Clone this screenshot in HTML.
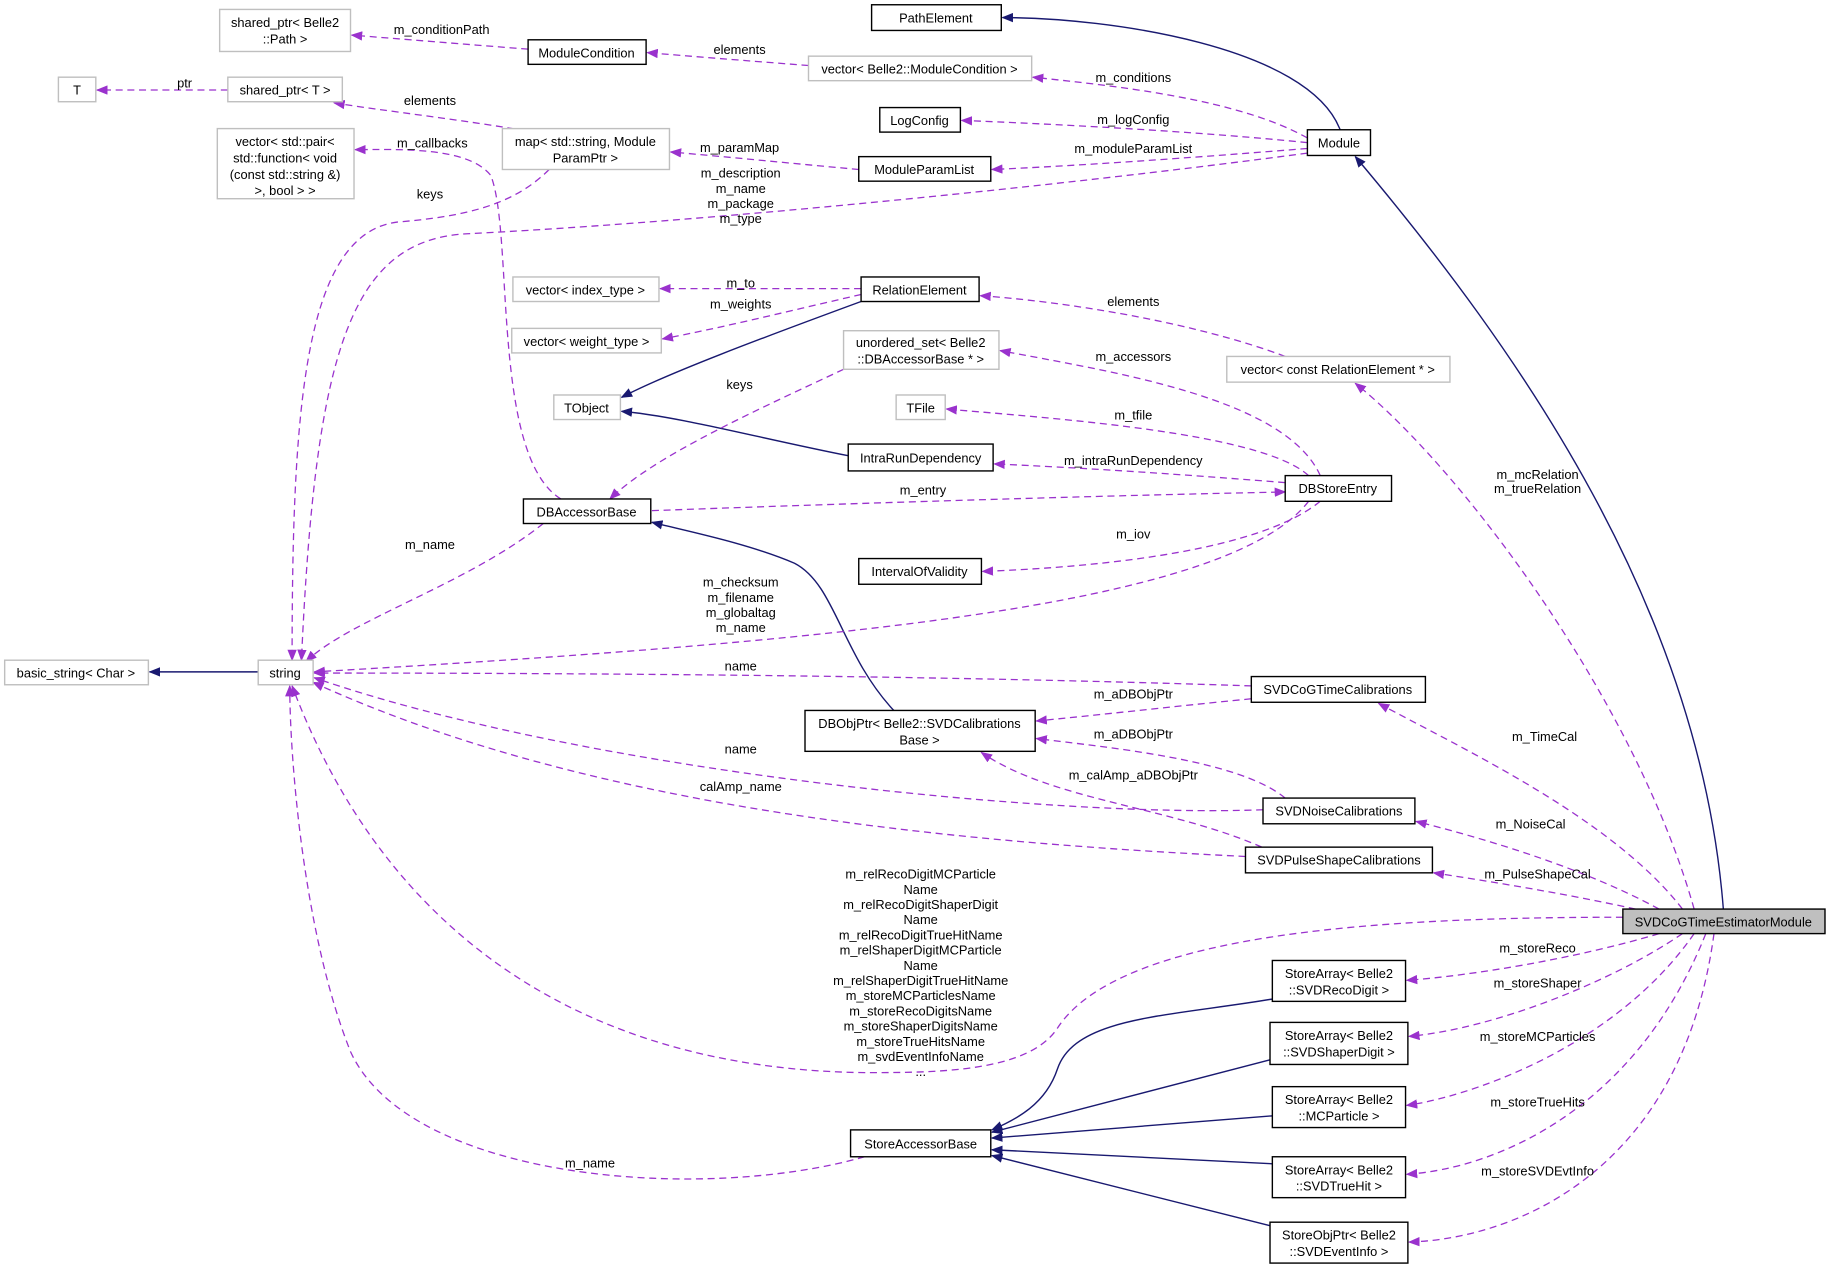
<!DOCTYPE html>
<html><head><meta charset="utf-8"><style>
html,body{margin:0;padding:0;background:#fff;}
svg{display:block;}
text{font-family:"Liberation Sans",sans-serif;font-size:11px;fill:#000;text-anchor:middle;}
.g{fill:#fff;stroke:#bfbfbf;stroke-width:1.2;}
.b{fill:#fff;stroke:#000;stroke-width:1.2;}
.p{fill:none;stroke:#9a32cd;stroke-width:1.1;stroke-dasharray:6,4;marker-end:url(#ap);}
.n{fill:none;stroke:#191970;stroke-width:1.2;marker-end:url(#an);}
</style></head><body>
<svg width="1832" height="1269" viewBox="0 0 1568 1086" xmlns="http://www.w3.org/2000/svg">
<defs>
<marker id="ap" markerWidth="10" markerHeight="8" refX="9" refY="4" orient="auto" markerUnits="userSpaceOnUse"><path d="M0,0 L10,4 L0,8 z" fill="#9a32cd"/></marker>
<marker id="an" markerWidth="10" markerHeight="8" refX="9" refY="4" orient="auto" markerUnits="userSpaceOnUse"><path d="M0,0 L10,4 L0,8 z" fill="#191970"/></marker>
</defs>

<!-- navy edges -->
<path class="n" d="M1147,111 C1120,40 950,15 858,15"/>
<path class="n" d="M1475,778 C1455,520 1300,300 1160,134"/>
<path class="n" d="M737,258 C650,290 570,320 532,340"/>
<path class="n" d="M726,390 C650,375 580,356 532,352"/>
<path class="n" d="M765,608 C720,560 715,500 680,482 C640,465 590,455 558,447"/>
<path class="n" d="M221,575 L128,575"/>
<path class="n" d="M1089,855 C1000,870 920,870 905,915 C895,945 870,958 849,967"/>
<path class="n" d="M1087,907 L849,969"/>
<path class="n" d="M1089,955 L849,974"/>
<path class="n" d="M1089,996 L849,984"/>
<path class="n" d="M1087,1049 L849,989"/>

<!-- purple edges -->
<path class="p" d="M452,42 C400,38 340,33 301,30"/>
<path class="p" d="M692,56 C640,52 590,48 554,45"/>
<path class="p" d="M195,77 L83,77"/>
<path class="p" d="M450,112 C400,103 330,95 286,88"/>
<path class="p" d="M1119,118 C1060,85 960,74 884,66"/>
<path class="p" d="M1119,122 C1020,112 900,106 823,103"/>
<path class="p" d="M1119,127 C1020,135 920,142 849,145"/>
<path class="p" d="M735,145 C680,140 620,134 574,130"/>
<path class="p" d="M1119,131 C900,160 600,190 400,200 C300,205 270,300 258,565"/>
<path class="p" d="M470,145 C440,175 400,185 340,190 C260,200 250,350 250,565"/>
<path class="p" d="M480,427 C420,390 440,200 420,150 C400,125 340,128 304,128"/>
<path class="p" d="M737,247 L565,247"/>
<path class="p" d="M737,252 C680,265 620,280 567,290"/>
<path class="p" d="M1100,305 C1020,275 910,258 839,253"/>
<path class="p" d="M1130,407 C1100,340 950,318 856,300"/>
<path class="p" d="M1120,407 C1080,370 900,358 810,350"/>
<path class="p" d="M1100,413 C1000,405 920,400 851,397"/>
<path class="p" d="M722,316 C650,350 560,390 522,427"/>
<path class="p" d="M558,437 C750,430 950,424 1100,421"/>
<path class="p" d="M1130,429 C1080,470 950,485 841,489"/>
<path class="p" d="M1120,429 C1050,520 700,550 269,575"/>
<path class="p" d="M465,448 C400,500 300,530 262,566"/>
<path class="p" d="M1071,587 C800,578 500,576 269,576"/>
<path class="p" d="M1071,598 C1000,605 940,612 887,617"/>
<path class="p" d="M1100,683 C1060,650 950,640 887,632"/>
<path class="p" d="M1081,693 C900,700 500,660 269,580"/>
<path class="p" d="M1080,725 C1000,690 900,685 840,644"/>
<path class="p" d="M1066,733 C800,720 500,690 268,584"/>
<path class="p" d="M1389,785 C1200,785 960,795 905,880 C880,918 800,918 740,918 C500,915 330,800 250,587"/>
<path class="p" d="M740,990 C600,1030 350,1010 300,900 C260,800 248,650 248,587"/>
<path class="p" d="M1450,778 C1400,600 1250,400 1160,328"/>
<path class="p" d="M1440,778 C1380,700 1250,640 1180,602"/>
<path class="p" d="M1420,778 C1350,740 1260,715 1212,703"/>
<path class="p" d="M1400,778 C1340,765 1280,755 1227,747"/>
<path class="p" d="M1420,799 C1350,820 1260,835 1204,839"/>
<path class="p" d="M1440,799 C1380,840 1280,880 1206,887"/>
<path class="p" d="M1450,799 C1380,900 1250,940 1204,946"/>
<path class="p" d="M1460,799 C1400,950 1280,1000 1204,1005"/>
<path class="p" d="M1467,799 C1440,1000 1300,1060 1206,1063"/>

<!-- nodes -->
<rect class="g" x="188" y="8" width="112" height="36"/><text x="244" y="23">shared_ptr&lt; Belle2</text><text x="244" y="37">::Path &gt;</text>
<rect class="b" x="452" y="34" width="101" height="21"/><text x="502" y="49">ModuleCondition</text>
<rect class="b" x="746" y="4" width="111" height="22"/><text x="801" y="19">PathElement</text>
<rect class="g" x="692" y="48" width="191" height="21"/><text x="787" y="63">vector&lt; Belle2::ModuleCondition &gt;</text>
<rect class="g" x="50" y="66" width="32" height="21"/><text x="66" y="81">T</text>
<rect class="g" x="195" y="66" width="98" height="21"/><text x="244" y="81">shared_ptr&lt; T &gt;</text>
<rect class="b" x="753" y="92" width="69" height="21"/><text x="787" y="107">LogConfig</text>
<rect class="b" x="1119" y="111" width="54" height="22"/><text x="1146" y="126">Module</text>
<rect class="g" x="186" y="110" width="117" height="60"/><text x="244" y="125">vector&lt; std::pair&lt;</text><text x="244" y="139">std::function&lt; void</text><text x="244" y="153">(const std::string &amp;)</text><text x="244" y="167">&gt;, bool &gt; &gt;</text>
<rect class="g" x="430" y="110" width="143" height="35"/><text x="501" y="125">map&lt; std::string, Module</text><text x="501" y="139">ParamPtr &gt;</text>
<rect class="b" x="735" y="134" width="113" height="21"/><text x="791" y="149">ModuleParamList</text>
<rect class="g" x="439" y="237" width="125" height="21"/><text x="501" y="252">vector&lt; index_type &gt;</text>
<rect class="b" x="737" y="237" width="101" height="21"/><text x="787" y="252">RelationElement</text>
<rect class="g" x="438" y="281" width="128" height="21"/><text x="502" y="296">vector&lt; weight_type &gt;</text>
<rect class="g" x="722" y="283" width="133" height="33"/><text x="788" y="297">unordered_set&lt; Belle2</text><text x="788" y="311">::DBAccessorBase * &gt;</text>
<rect class="g" x="1050" y="305" width="191" height="22"/><text x="1145" y="320">vector&lt; const RelationElement * &gt;</text>
<rect class="g" x="474" y="338" width="57" height="21"/><text x="502" y="353">TObject</text>
<rect class="g" x="767" y="338" width="42" height="21"/><text x="788" y="353">TFile</text>
<rect class="b" x="726" y="380" width="124" height="23"/><text x="788" y="396">IntraRunDependency</text>
<rect class="b" x="1100" y="407" width="91" height="22"/><text x="1145" y="422">DBStoreEntry</text>
<rect class="b" x="448" y="427" width="109" height="21"/><text x="502" y="442">DBAccessorBase</text>
<rect class="b" x="735" y="478" width="105" height="22"/><text x="787" y="493">IntervalOfValidity</text>
<rect class="g" x="4" y="565" width="123" height="21"/><text x="65" y="580">basic_string&lt; Char &gt;</text>
<rect class="g" x="221" y="565" width="47" height="21"/><text x="244" y="580">string</text>
<rect class="b" x="1071" y="579" width="149" height="22"/><text x="1145" y="594">SVDCoGTimeCalibrations</text>
<rect class="b" x="689" y="608" width="197" height="35"/><text x="787" y="623">DBObjPtr&lt; Belle2::SVDCalibrations</text><text x="787" y="637">Base &gt;</text>
<rect class="b" x="1081" y="683" width="130" height="22"/><text x="1146" y="698">SVDNoiseCalibrations</text>
<rect class="b" x="1066" y="725" width="160" height="22"/><text x="1146" y="740">SVDPulseShapeCalibrations</text>
<rect x="1389" y="778" width="173" height="21" fill="#bfbfbf" stroke="#000" stroke-width="1.2"/><text x="1475" y="793">SVDCoGTimeEstimatorModule</text>
<rect class="b" x="1089" y="822" width="114" height="35"/><text x="1146" y="837">StoreArray&lt; Belle2</text><text x="1146" y="851">::SVDRecoDigit &gt;</text>
<rect class="b" x="1087" y="875" width="118" height="36"/><text x="1146" y="890">StoreArray&lt; Belle2</text><text x="1146" y="904">::SVDShaperDigit &gt;</text>
<rect class="b" x="1089" y="930" width="114" height="35"/><text x="1146" y="945">StoreArray&lt; Belle2</text><text x="1146" y="959">::MCParticle &gt;</text>
<rect class="b" x="1089" y="990" width="114" height="35"/><text x="1146" y="1005">StoreArray&lt; Belle2</text><text x="1146" y="1019">::SVDTrueHit &gt;</text>
<rect class="b" x="1087" y="1046" width="118" height="35"/><text x="1146" y="1061">StoreObjPtr&lt; Belle2</text><text x="1146" y="1075">::SVDEventInfo &gt;</text>
<rect class="b" x="728" y="967" width="120" height="23"/><text x="788" y="983">StoreAccessorBase</text>

<!-- labels -->
<text x="378" y="29">m_conditionPath</text>
<text x="633" y="46">elements</text>
<text x="158" y="75">ptr</text>
<text x="368" y="90">elements</text>
<text x="970" y="70">m_conditions</text>
<text x="970" y="106">m_logConfig</text>
<text x="970" y="131">m_moduleParamList</text>
<text x="633" y="130">m_paramMap</text>
<text x="370" y="126">m_callbacks</text>
<text x="634" y="152">m_description</text><text x="634" y="165">m_name</text><text x="634" y="178">m_package</text><text x="634" y="191">m_type</text>
<text x="368" y="170">keys</text>
<text x="634" y="246">m_to</text>
<text x="634" y="264">m_weights</text>
<text x="970" y="262">elements</text>
<text x="970" y="309">m_accessors</text>
<text x="633" y="333">keys</text>
<text x="970" y="359">m_tfile</text>
<text x="970" y="398">m_intraRunDependency</text>
<text x="1316" y="410">m_mcRelation</text><text x="1316" y="422">m_trueRelation</text>
<text x="790" y="423">m_entry</text>
<text x="970" y="461">m_iov</text>
<text x="368" y="470">m_name</text>
<text x="634" y="502">m_checksum</text><text x="634" y="515">m_filename</text><text x="634" y="528">m_globaltag</text><text x="634" y="541">m_name</text>
<text x="634" y="574">name</text>
<text x="970" y="598">m_aDBObjPtr</text>
<text x="970" y="632">m_aDBObjPtr</text>
<text x="1322" y="634">m_TimeCal</text>
<text x="634" y="645">name</text>
<text x="970" y="667">m_calAmp_aDBObjPtr</text>
<text x="634" y="677">calAmp_name</text>
<text x="1310" y="709">m_NoiseCal</text>
<text x="1316" y="752">m_PulseShapeCal</text>
<text x="788" y="752">m_relRecoDigitMCParticle</text>
<text x="788" y="765">Name</text>
<text x="788" y="778">m_relRecoDigitShaperDigit</text>
<text x="788" y="791">Name</text>
<text x="788" y="804">m_relRecoDigitTrueHitName</text>
<text x="788" y="817">m_relShaperDigitMCParticle</text>
<text x="788" y="830">Name</text>
<text x="788" y="843">m_relShaperDigitTrueHitName</text>
<text x="788" y="856">m_storeMCParticlesName</text>
<text x="788" y="869">m_storeRecoDigitsName</text>
<text x="788" y="882">m_storeShaperDigitsName</text>
<text x="788" y="895">m_storeTrueHitsName</text>
<text x="788" y="908">m_svdEventInfoName</text>
<text x="788" y="921">...</text>
<text x="1316" y="815">m_storeReco</text>
<text x="1316" y="845">m_storeShaper</text>
<text x="1316" y="891">m_storeMCParticles</text>
<text x="1316" y="947">m_storeTrueHits</text>
<text x="1316" y="1006">m_storeSVDEvtInfo</text>
<text x="505" y="999">m_name</text>
</svg>
</body></html>
